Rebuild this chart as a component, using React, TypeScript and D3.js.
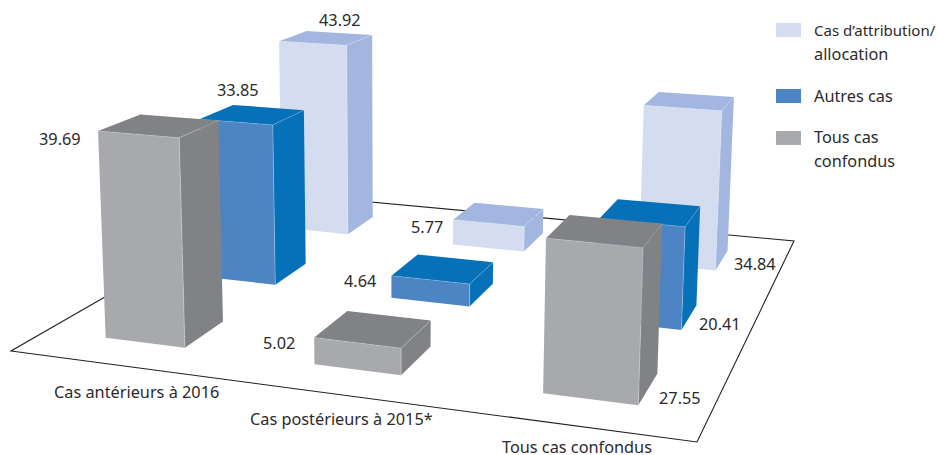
import React from "react";
import * as d3 from "d3";

const categories = ["Cas antérieurs à 2016", "Cas postérieurs à 2015*", "Tous cas confondus"];
const seriesNames = ["Tous cas confondus", "Autres cas", "Cas d’attribution/allocation"];
const tousCas = [39.69, 5.02, 27.55];
const autresCas = [33.85, 4.64, 20.41];
const attribution = [43.92, 5.77, 34.84];
const seriesValues = [tousCas, autresCas, attribution];

const faceColors = ["#a7a9ac", "#4c84c4", "#d4dcf0"];
const shadeColors = ["#808285", "#0670b8", "#a2b6df"];

const WIDTH = 938;
const HEIGHT = 455;
const FONT = "'Noto Sans', sans-serif";
const INK = "#2b2a2b";
const TEXT_SIZE = 16.3;

type Pt = [number, number];

// Floor plane on screen: front-left, front-right, back-right, back-left.
const floor: Pt[] = [[11, 351], [697, 442], [794, 241], [284, 194]];
// Where the vertical edges converge, and pixels per unit of value at the floor.
const verticalVanish: Pt = [398, 8263];
const unitPixels = 5.22;

function buildCamera(q: Pt[]) {
  const [[x0, y0], [x1, y1], [x2, y2], [x3, y3]] = q;
  const dx1 = x1 - x2, dx2 = x3 - x2, sx = x0 - x1 + x2 - x3;
  const dy1 = y1 - y2, dy2 = y3 - y2, sy = y0 - y1 + y2 - y3;
  const det = dx1 * dy2 - dx2 * dy1;
  const g = (sx * dy2 - dx2 * sy) / det;
  const h = (dx1 * sy - sx * dy1) / det;
  const a = x1 - x0 + g * x1, b = x3 - x0 + h * x3;
  const d = y1 - y0 + g * y1, e = y3 - y0 + h * y3;
  const k = -unitPixels / (verticalVanish[1] - 300);
  return (u: number, v: number, z: number): Pt => {
    const w = g * u + h * v + 1 + z * k;
    return [
      (a * u + b * v + x0 + z * k * verticalVanish[0]) / w,
      (d * u + e * v + y0 + z * k * verticalVanish[1]) / w,
    ];
  };
}

const project = buildCamera(floor);

// Bars sit on a 3×3 grid of the floor: categories across, series in depth.
const across = d3.scaleBand<number>().domain([0, 1, 2]).range([0.1, 0.904]).paddingInner(0.61).paddingOuter(0);
const depth = d3.scaleBand<number>().domain([0, 1, 2]).range([0.1, 0.894]).paddingInner(0.61).paddingOuter(0);
// The rows drift slightly leftward as they recede, less so in the first column.
const rowDrift = d3.scaleLinear().domain([0, 2]).range([0, -0.0065]);
const columnDrift = [0.4, 1, 1];
const pathOf = d3.line<Pt>();
const poly = (pts: Pt[]) => pathOf(pts) + "Z";

// Value labels and axis captions, each placed beside its bar or along the front edge.
const valueLabelAt: Pt[][] = [
  [[39, 145], [263, 349], [659, 404]],
  [[217, 96], [344, 287], [699, 330]],
  [[319, 26], [411, 233], [734, 270]],
];
const categoryLabelAt: Pt[] = [[54, 398], [250, 425], [502, 453]];

// The long first legend line is set a little smaller so it stays inside the page.
const legendRows = [
  { series: 2, swatchY: 23, lines: ["Cas d’attribution/", "allocation"], baselines: [36, 60], sizes: [15, TEXT_SIZE] },
  { series: 1, swatchY: 89, lines: ["Autres cas"], baselines: [102], sizes: [TEXT_SIZE] },
  { series: 0, swatchY: 131, lines: ["Tous cas", "confondus"], baselines: [143, 167], sizes: [TEXT_SIZE, TEXT_SIZE] },
];

function Bar({ cat, ser }: { cat: number; ser: number }) {
  const value = seriesValues[ser][cat];
  const u0 = across(cat)! + rowDrift(ser) * columnDrift[cat], u1 = u0 + across.bandwidth();
  const v0 = depth(ser)!, v1 = v0 + depth.bandwidth();
  const fl = project(u0, v0, 0), fr = project(u1, v0, 0), br = project(u1, v1, 0);
  const tfl = project(u0, v0, value), tfr = project(u1, v0, value);
  const tbr = project(u1, v1, value), tbl = project(u0, v1, value);
  return (
    <g>
      <path d={poly([fl, fr, tfr, tfl])} fill={faceColors[ser]} />
      <path d={poly([fr, br, tbr, tfr])} fill={shadeColors[ser]} />
      <path d={poly([tfl, tfr, tbr, tbl])} fill={shadeColors[ser]} />
      <path d={pathOf([tfl, tfr, tbr])!} fill="none" stroke="#fff" strokeOpacity={0.35} strokeWidth={0.6} />
      <path d={pathOf([tfr, fr])!} fill="none" stroke="#fff" strokeOpacity={0.45} strokeWidth={0.7} />
    </g>
  );
}

export default function App() {
  return (
    <svg
      width={WIDTH}
      height={HEIGHT}
      viewBox={`0 0 ${WIDTH} ${HEIGHT}`}
      style={{ position: "absolute", left: 0, top: 0, background: "#fff" }}
      fontFamily={FONT}
      fontSize={TEXT_SIZE}
      fill={INK}
    >
      <path d={poly(floor)} fill="none" stroke="#231f20" strokeWidth={1.1} />
      {[2, 1, 0].map((ser) =>
        categories.map((_, cat) => <Bar key={`${ser}-${cat}`} cat={cat} ser={ser} />)
      )}
      {seriesValues.map((vals, ser) =>
        vals.map((v, cat) => (
          <text key={`${ser}-${cat}`} x={valueLabelAt[ser][cat][0]} y={valueLabelAt[ser][cat][1]}>
            {v.toFixed(2)}
          </text>
        ))
      )}
      {categories.map((c, i) => (
        <text key={c} x={categoryLabelAt[i][0]} y={categoryLabelAt[i][1]}>{c}</text>
      ))}
      {legendRows.map((row) => (
        <g key={seriesNames[row.series]}>
          <rect x={776} y={row.swatchY} width={25} height={14} fill={faceColors[row.series]} />
          {row.lines.map((line, i) => (
            <text key={line} x={814} y={row.baselines[i]} fontSize={row.sizes[i]}>
              {line}
            </text>
          ))}
        </g>
      ))}
    </svg>
  );
}
